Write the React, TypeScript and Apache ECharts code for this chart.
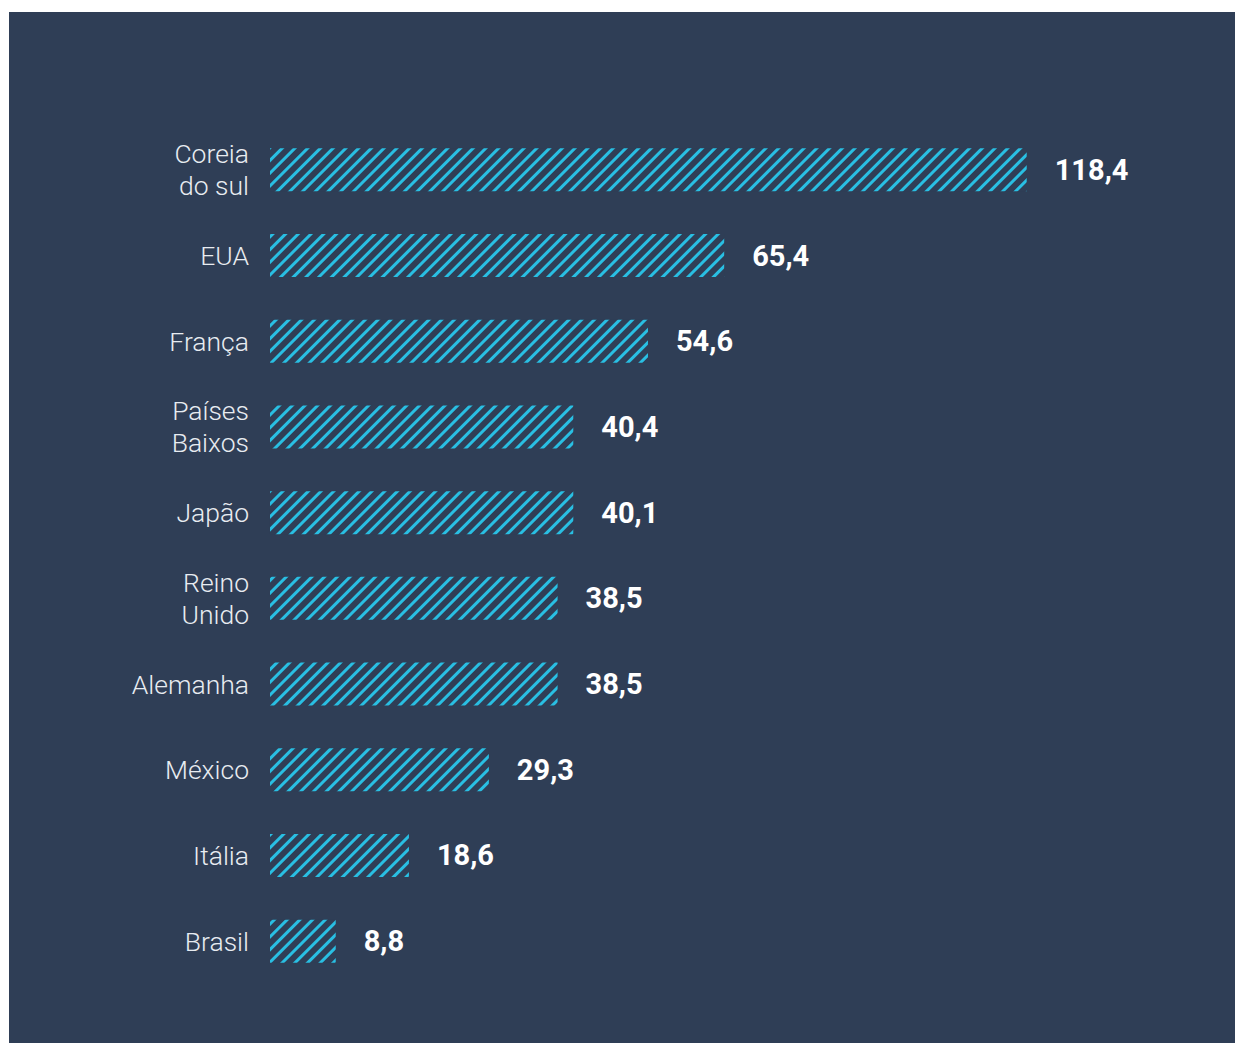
import React, { useEffect, useRef } from "react";
import * as echarts from "echarts";

const categories = [
  "Coreia\ndo sul",
  "EUA",
  "França",
  "Países\nBaixos",
  "Japão",
  "Reino\nUnido",
  "Alemanha",
  "México",
  "Itália",
  "Brasil",
];

// values printed next to the bars
const values = [118.4, 65.4, 54.6, 40.4, 40.1, 38.5, 38.5, 29.3, 18.6, 8.8];

// bar lengths as drawn in the picture (the top bars are visually shortened)
const barLengths = [101.3, 60.8, 50.6, 40.6, 40.6, 38.5, 38.5, 29.3, 18.6, 8.8];

const BG = "#2f3e56";
const STRIPE = "#29bfe3";

export default function App() {
  const ref = useRef<HTMLDivElement>(null);
  useEffect(() => {
    if (!ref.current) return;
    const chart = echarts.init(ref.current, undefined, { renderer: "svg" });
    chart.setOption({
      animation: false,
      backgroundColor: BG,
      grid: { left: 261, top: 115, bottom: 59, width: 120 * 7.47, containLabel: false },
      xAxis: { type: "value", min: 0, max: 120, show: false },
      yAxis: {
        type: "category",
        data: categories,
        inverse: true,
        axisLine: { show: false },
        axisTick: { show: false },
        splitLine: { show: false },
        axisLabel: {
          color: "#e8ecf1",
          fontSize: 26.5,
          fontWeight: 300,
          fontFamily: "Roboto",
          margin: 21,
          lineHeight: 32,
          align: "right",
        },
      },
      series: [
        {
          type: "bar",
          data: barLengths,
          barWidth: 43,
          itemStyle: {
            color: BG,
            decal: {
              symbol: "rect",
              color: STRIPE,
              dashArrayX: [1, 0],
              dashArrayY: [2.6, 5.4],
              symbolSize: 1,
              rotation: -Math.PI / 4,
            },
          },
          label: {
            show: true,
            position: "right",
            distance: 28,
            formatter: (p: any) => values[p.dataIndex].toFixed(1).replace(".", ","),
            color: "#ffffff",
            fontSize: 29,
            fontWeight: "bold",
            fontFamily: "Roboto",
          },
        },
      ],
    });
    return () => chart.dispose();
  }, []);
  return (
    <div
      ref={ref}
      style={{ position: "absolute", left: 9, top: 12, width: 1226, height: 1031 }}
    />
  );
}
